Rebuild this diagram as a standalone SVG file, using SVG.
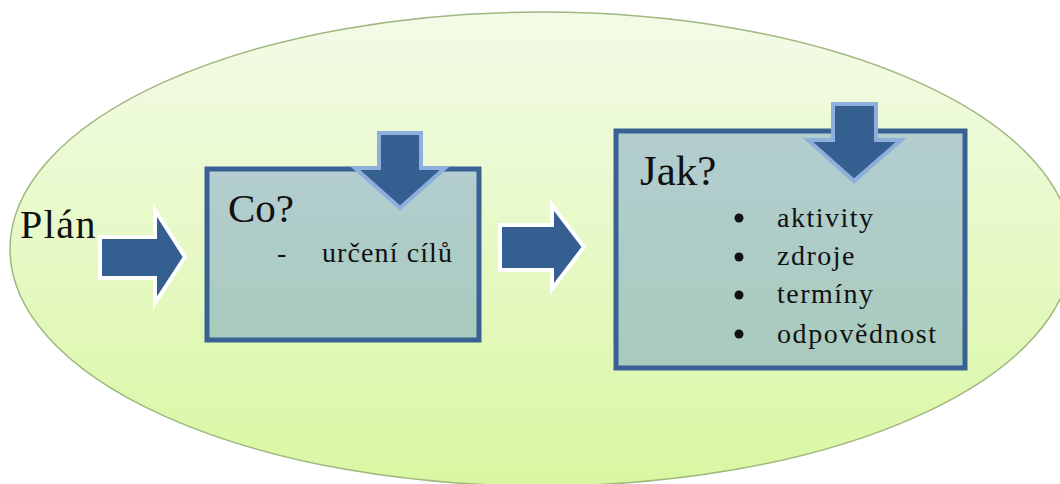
<svg xmlns="http://www.w3.org/2000/svg" width="1060" height="484" viewBox="0 0 1060 484">
<defs>
<linearGradient id="gEll" x1="0" y1="0" x2="0" y2="1">
<stop offset="0" stop-color="#f3fbe8"/>
<stop offset="1" stop-color="#d9f7a2"/>
</linearGradient>
<linearGradient id="gBox" x1="0" y1="0" x2="0" y2="1">
<stop offset="0" stop-color="#b3cdd0"/>
<stop offset="1" stop-color="#a8cbbd"/>
</linearGradient>
<style>
.ell{fill:url(#gEll);stroke:#9fb87e;stroke-width:1.5}
.box{fill:url(#gBox);stroke:#3a6194;stroke-width:5}
.arr{fill:#365f91;stroke:#ffffff;stroke-width:4;stroke-linejoin:miter}
.dn{fill:#365f91;stroke:#8eaedb;stroke-width:4;stroke-linejoin:miter}
.t{fill:#111}
</style>
</defs>
<ellipse class="ell" cx="541" cy="249" rx="531" ry="237"/>
<g id="plan">
<text class="t" x="20" y="238" font-size="40" font-family="Liberation Serif" letter-spacing="1.5">Plán</text>
</g>
<g id="co">
<rect class="box" x="207" y="169" width="272" height="171"/>
<polygon class="dn" points="379,133 421,133 421,168 445,168 400,208 355,168 379,168"/>
<text class="t" x="228" y="222" font-size="41" font-family="Liberation Serif">Co?</text>
<text class="t" x="277" y="262" font-size="28" font-family="Liberation Serif">-</text>
<text class="t" x="322" y="262" font-size="28" font-family="Liberation Serif" letter-spacing="1.1">určení cílů</text>
</g>
<g id="jak">
<rect class="box" x="616" y="131" width="349" height="237"/>
<polygon class="dn" points="833,104 876,104 876,140 901,140 854,181 808,140 833,140"/>
<text class="t" x="640" y="185" font-size="43" font-family="Liberation Serif">Jak?</text>
<circle cx="739" cy="218" r="4.5" fill="#111"/>
<circle cx="739" cy="257" r="4.5" fill="#111"/>
<circle cx="739" cy="295" r="4.5" fill="#111"/>
<circle cx="739" cy="334" r="4.5" fill="#111"/>
<text class="t" x="777" y="227" font-size="28" font-family="Liberation Serif" letter-spacing="1.5">aktivity</text>
<text class="t" x="777" y="265" font-size="28" font-family="Liberation Serif" letter-spacing="1.5">zdroje</text>
<text class="t" x="777" y="303" font-size="28" font-family="Liberation Serif" letter-spacing="1.5">termíny</text>
<text class="t" x="777" y="343" font-size="28" font-family="Liberation Serif" letter-spacing="1.6">odpovědnost</text>
</g>
<g id="connectors">
<polygon class="arr" points="100,237 155,237 155,210 185,257 155,303 155,278 100,278"/>
<polygon class="arr" points="500,225 552,225 552,205 584,247 552,289 552,270 500,270"/>
</g>
</svg>
